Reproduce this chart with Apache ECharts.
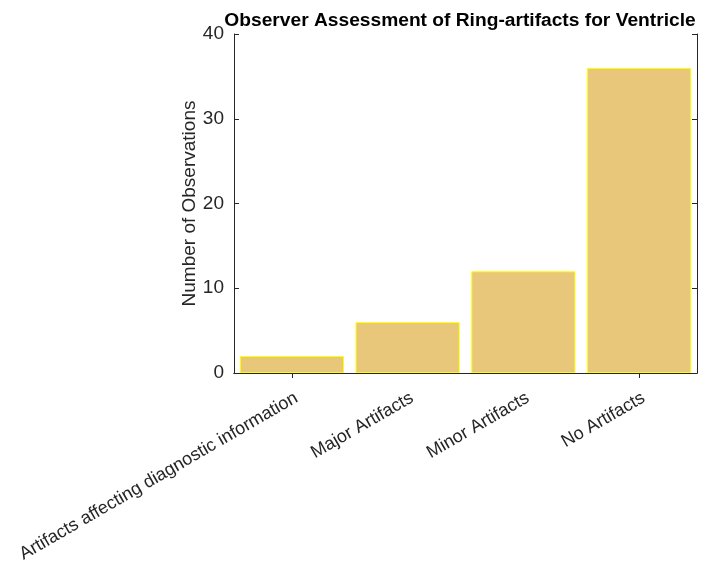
<!DOCTYPE html>
<html>
<head>
<meta charset="utf-8">
<script src="https://cdn.jsdelivr.net/npm/echarts@6/dist/echarts.min.js"></script>
<style>
  html, body { margin: 0; padding: 0; background: #fff; }
  #chart { width: 712px; height: 567px; }
</style>
</head>
<body>
<div id="chart"></div>
<script>
// Observer ratings of ring artifacts in the ventricle region
const categories = [
  'Artifacts affecting diagnostic information',
  'Major Artifacts',
  'Minor Artifacts',
  'No Artifacts'
];
const observations = [2, 6, 12, 36];
const yTicks = [0, 10, 20, 30, 40];

const axisColor = '#262626';
const font = 'Liberation Sans, Arial, Helvetica, sans-serif';

const chart = echarts.init(document.getElementById('chart'));
chart.setOption({
  animation: false,
  backgroundColor: '#ffffff',
  title: {
    text: 'Observer Assessment of Ring-artifacts for Ventricle',
    left: 455,
    top: 6,
    textAlign: 'center',
    textStyle: { fontFamily: font, fontSize: 19.2, fontWeight: 'bold', color: '#000' }
  },
  grid: { left: 234, right: 15, top: 34, bottom: 194 },
  xAxis: [
    {
      type: 'category',
      data: categories,
      position: 'bottom',
      axisLine: { show: true, lineStyle: { color: axisColor, width: 1 } },
      axisTick: { show: true, inside: true, length: 5, alignWithLabel: true, lineStyle: { color: axisColor } },
      axisLabel: {
        rotate: 30,
        margin: 16,
        interval: 0,
        verticalAlign: 'top',
        fontFamily: font,
        fontSize: 18,
        color: axisColor
      }
    },
    {
      type: 'category',
      data: categories,
      position: 'top',
      axisLine: { show: true, lineStyle: { color: axisColor, width: 1 } },
      axisTick: { show: true, inside: true, length: 5, alignWithLabel: true, lineStyle: { color: axisColor } },
      axisLabel: { show: false }
    }
  ],
  yAxis: [
    {
      type: 'value',
      min: yTicks[0],
      max: yTicks[yTicks.length - 1],
      interval: 10,
      name: 'Number of Observations',
      nameLocation: 'middle',
      nameGap: 35,
      nameMoveOverlap: false,
      nameTextStyle: { fontFamily: font, fontSize: 19, color: axisColor },
      axisLine: { show: true, lineStyle: { color: axisColor, width: 1 } },
      axisTick: { show: true, inside: true, length: 5, lineStyle: { color: axisColor } },
      axisLabel: { fontFamily: font, fontSize: 19, color: axisColor, margin: 10 },
      splitLine: { show: false }
    },
    {
      type: 'value',
      position: 'right',
      min: yTicks[0],
      max: yTicks[yTicks.length - 1],
      interval: 10,
      axisLine: { show: true, lineStyle: { color: axisColor, width: 1 } },
      axisTick: { show: true, inside: true, length: 5, lineStyle: { color: axisColor } },
      axisLabel: { show: false },
      splitLine: { show: false }
    }
  ],
  series: [
    {
      type: 'bar',
      data: observations,
      barWidth: '90%',
      itemStyle: { color: '#E8C67A', borderColor: '#FFFF00', borderWidth: 1 },
      z: 1
    }
  ]
});
</script>
</body>
</html>
